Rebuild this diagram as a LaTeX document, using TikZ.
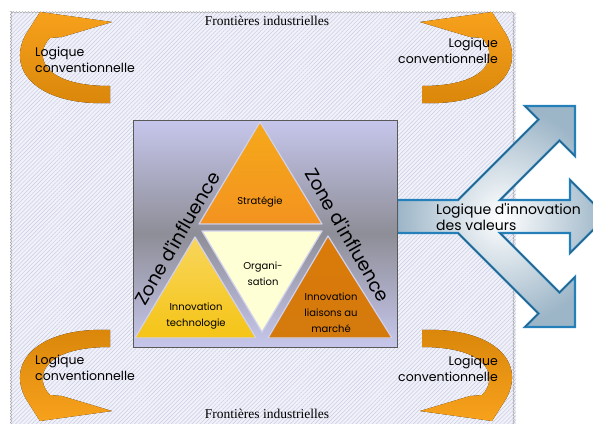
\documentclass[tikz,border=0pt]{standalone}
\usepackage{fontspec}
\setmainfont{Liberation Serif}
\newfontfamily\gothic{Poppins}
\usetikzlibrary{patterns.meta,decorations.pathmorphing}

\definecolor{framebg}{HTML}{F1F1FA}
\definecolor{hatch}{HTML}{C9CCE2}
\definecolor{boxtop}{HTML}{C6C6EC}
\definecolor{boxmid}{HTML}{8E8E98}
\definecolor{triedge}{HTML}{D2D2EE}
\definecolor{stratcol}{HTML}{F39320}
\definecolor{orgacol}{HTML}{FFFFD6}
\definecolor{techcol}{HTML}{F5C416}
\definecolor{marchecol}{HTML}{D47A0C}
\definecolor{orglight}{HTML}{F7A11C}
\definecolor{orgdark}{HTML}{D9860A}
\definecolor{valedge}{HTML}{2088CA}
\definecolor{valfill}{HTML}{9CB5C7}

% curved arrow, drawn for the top left corner
\newcommand\bentpath{(110,103) .. controls (40,106) and (5,72) .. (26,34) -- (40,12) -- (112,22) -- (62,37) -- (50,38) .. controls (34,54) and (40,86) .. (110,86) -- cycle}
% the three arrows on the right as one outline
\newcommand\valpath{(397,200) -- (458,200) -- (538.5,119.5) -- (525,106) -- (575,106) -- (575,156) -- (559.5,140.5) -- (500,200) -- (570,200) -- (570,180) -- (606.5,216.5) -- (570,253) -- (570,233) -- (500,233) -- (559.5,292.5) -- (575,277) -- (575,327) -- (525,327) -- (538.5,313.5) -- (458,233) -- (397,233) -- cycle}

\begin{document}
\begin{tikzpicture}[x=1pt,y=-1pt,
  every node/.style={inner sep=0pt},
  logic/.style={font=\gothic\fontsize{12.5}{16.5}\selectfont},
  front/.style={font=\fontsize{13.5}{14}\selectfont},
  tri/.style={draw=triedge, line width=1.2pt, line join=round},
  tritext/.style={font=\gothic\fontsize{10}{16}\selectfont, align=center},
  zone/.style={font=\gothic\fontsize{18.5}{18}\selectfont}]
\useasboundingbox (0,0) rectangle (593,423);
\clip (0,0) rectangle (593,423);

% frame
\fill[framebg] (11,12) rectangle (516,430);
\fill[pattern={Lines[angle=45,distance=2.9pt,line width=.5pt]}, pattern color=hatch] (11,12) rectangle (516,430);
\draw[gray!70, line width=.5pt, decorate, decoration={snake,amplitude=.7pt,segment length=3pt}] (11,12) rectangle (516,430);

\node[front] (front1) at (267,21) {Frontières industrielles};
\node[front] (front2) at (267,414) {Frontières industrielles};

% corner arrows (shading stays upright, so the lower ones swap colours)
\fill[top color=orglight, bottom color=orgdark] \bentpath;
\begin{scope}[shift={(532,0)}, xscale=-1]
\fill[top color=orglight, bottom color=orgdark] \bentpath;
\end{scope}
\begin{scope}[shift={(0,433)}, yscale=-1]
\fill[top color=orgdark, bottom color=orglight] \bentpath;
\end{scope}
\begin{scope}[shift={(532,433)}, scale=-1]
\fill[top color=orgdark, bottom color=orglight] \bentpath;
\end{scope}

\node[logic, anchor=west, align=left] (logTL) at (35,60) {Logique\\conventionnelle};
\node[logic, anchor=east, align=right] (logTR) at (498,51) {Logique\\conventionnelle};
\node[logic, anchor=west, align=left] (logBL) at (35,368) {Logique\\conventionnelle};
\node[logic, anchor=east, align=right] (logBR) at (498,369) {Logique\\conventionnelle};

% value arrows
\fill[inner color=white, outer color=valfill] \valpath;
\draw[valedge, line width=2.2pt, line join=miter] \valpath;
\draw[black!70, line width=.4pt, line join=miter] \valpath;
\node[anchor=west, align=left, font=\gothic\fontsize{14}{10.5}\selectfont] (innov) at (436,217) {Logique d'innovation\\des valeurs};

% central box
\draw[black!65, line width=.8pt, top color=boxtop, bottom color=boxtop, middle color=boxmid] (133,120) rectangle (397,347);
\filldraw[tri, top color=stratcol!80!yellow, bottom color=stratcol] (260,122) -- (322,224) -- (199,224) -- cycle;
\filldraw[tri, fill=orgacol] (202,231) -- (322,231) -- (262,332) -- cycle;
\filldraw[tri, top color=techcol!70!white, bottom color=techcol] (195,237) -- (256,338) -- (135,338) -- cycle;
\filldraw[tri, top color=marchecol!85!orange, bottom color=marchecol] (328,236) -- (392,338) -- (268,338) -- cycle;

\node[tritext] (strat) at (260,202) {Stratégie};
\node[tritext] (orga) at (263,274) {Organi-\\sation};
\node[tritext] (tech) at (196,316) {Innovation\\technologie};
\node[tritext] (marche) at (331,313) {Innovation\\liaisons au\\marché};

\node[zone, rotate=60] (zoneL) at (177,238) {Zone d'influence};
\node[zone, rotate=-60] (zoneR) at (348,235) {Zone d'influence};
\end{tikzpicture}
\end{document}
